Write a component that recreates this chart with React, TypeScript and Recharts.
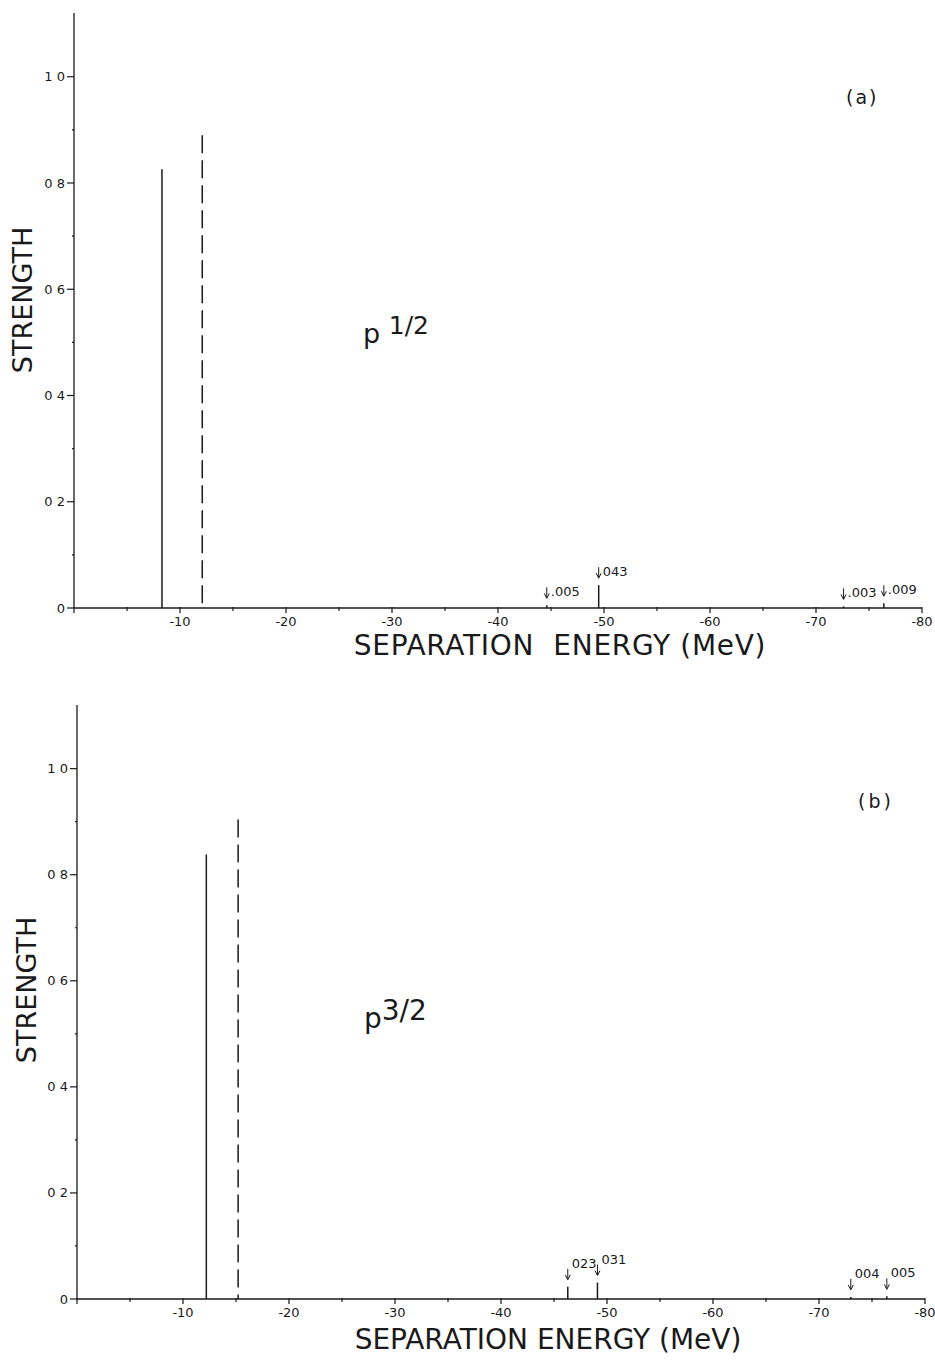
import { ComposedChart, Scatter, XAxis, YAxis } from 'recharts'

// panel (a) p1/2
const aSolidEnergy = [-8.3, -44.6, -49.5, -72.6, -76.4]
const aSolidStrength = [0.826, 0.005, 0.043, 0.003, 0.009]
const aLabels = ['', '.005', '043', '.003', '.009']
const aDashedEnergy = [-12.1]
const aDashedStrength = [0.89]

// panel (b) p3/2
const bSolidEnergy = [-12.2, -46.3, -49.1, -73.0, -76.4]
const bSolidStrength = [0.838, 0.023, 0.031, 0.004, 0.005]
const bLabels = ['', '023', '031', '004', '005']
const bDashedEnergy = [-15.2]
const bDashedStrength = [0.904]

const xTicks = [0, -5, -10, -15, -20, -25, -30, -35, -40, -45, -50, -55, -60, -65, -70, -75, -80]
const yTicks = [0, 0.1, 0.2, 0.3, 0.4, 0.5, 0.6, 0.7, 0.8, 0.9, 1.0]
const yTickLabels: Record<string, string> = { '0': '0', '0.2': '0 2', '0.4': '0 4', '0.6': '0 6', '0.8': '0 8', '1': '1 0' }

const INK = '#1a1a1a'
const FONT = '"DejaVu Sans", sans-serif'

const XTick = ({ x, y, payload }: any) => {
  const v = payload.value
  const major = v % 10 === 0
  return (
    <g>
      <line x1={x} x2={x} y1={y - 1} y2={y + (major ? 5 : 3)} stroke={INK} strokeWidth={1.2} />
      {major && v !== 0 && (
        <text x={x} y={y + 18} textAnchor="middle" fontSize={13} fontFamily={FONT} fill={INK}>
          {String(v)}
        </text>
      )}
    </g>
  )
}

const YTick = ({ x, y, payload }: any) => {
  const key = String(Math.round(payload.value * 10) / 10)
  const label = yTickLabels[key]
  return (
    <g>
      <line x1={x - (label ? 7 : 2)} x2={x} y1={y} y2={y} stroke={INK} strokeWidth={1.2} />
      {label && (
        <text x={x - 9} y={y + 4.5} textAnchor="end" fontSize={13} fontFamily={FONT} fill={INK}>
          {label}
        </text>
      )}
    </g>
  )
}

const noDot = () => <g />

function makeArrow(textDy: number) {
  return (p: any) => {
    const label = p.payload?.label
    if (!label) return <g />
    const { cx, cy } = p
    return (
      <g>
        <line x1={cx} x2={cx} y1={cy - 18} y2={cy - 8} stroke={INK} strokeWidth={1} />
        <path d={`M${cx - 2.5} ${cy - 12} L${cx} ${cy - 7} L${cx + 2.5} ${cy - 12}`} fill="none" stroke={INK} strokeWidth={1} />
        <text x={cx + 4} y={cy + textDy} fontSize={13} fontFamily={FONT} fill={INK}>
          {label}
        </text>
      </g>
    )
  }
}

function Panel({ solidE, solidS, dashedE, dashedS, labels, margin, textDy }: any) {
  const spikes = solidE.map((e: number, i: number) => [
    { x: e, y: 0 },
    { x: e, y: solidS[i] },
  ])
  // dashed lines drawn from the top down so the pattern starts with a dash
  const dashed = dashedE.map((e: number, i: number) => [
    { x: e, y: dashedS[i] },
    { x: e, y: 0 },
  ])
  const notes = solidE.map((e: number, i: number) => ({ x: e, y: solidS[i], label: labels[i] }))
  return (
    <ComposedChart width={935} height={680} margin={margin}>
      <XAxis
        type="number"
        dataKey="x"
        domain={[-80, 0]}
        reversed
        ticks={xTicks}
        interval={0}
        height={30}
        tickSize={0}
        tickMargin={0}
        tick={<XTick />}
        axisLine={{ stroke: INK, strokeWidth: 1.3 }}
        allowDataOverflow
      />
      <YAxis
        type="number"
        dataKey="y"
        domain={[0, 1.12]}
        ticks={yTicks}
        interval={0}
        width={60}
        tickSize={0}
        tickMargin={0}
        tick={<YTick />}
        axisLine={{ stroke: INK, strokeWidth: 1.3 }}
        allowDataOverflow
      />
      {spikes.map((d: any, i: number) => (
        <Scatter
          key={`s${i}`}
          data={d}
          line={{ stroke: INK, strokeWidth: 1.5 }}
          shape={noDot}
          isAnimationActive={false}
        />
      ))}
      {dashed.map((d: any, i: number) => (
        <Scatter
          key={`d${i}`}
          data={d}
          line={{ stroke: INK, strokeWidth: 1.5, strokeDasharray: '18 7' }}
          shape={noDot}
          isAnimationActive={false}
        />
      ))}
      <Scatter data={notes} shape={makeArrow(textDy)} isAnimationActive={false} />
    </ComposedChart>
  )
}

const abs = (left: number, top: number, extra: any = {}) => ({
  position: 'absolute' as const,
  left,
  top,
  fontFamily: FONT,
  color: INK,
  whiteSpace: 'pre' as const,
  lineHeight: 1,
  ...extra,
})

export default function App() {
  return (
    <div style={{ position: 'absolute', left: 0, top: 0, width: 935, height: 1361, background: '#fff', overflow: 'hidden' }}>
      <div style={{ position: 'absolute', left: 0, top: 0 }}>
        <Panel
          solidE={aSolidEnergy}
          solidS={aSolidStrength}
          dashedE={aDashedEnergy}
          dashedS={aDashedStrength}
          labels={aLabels}
          margin={{ top: 13, right: 13, left: 14, bottom: 42 }}
          textDy={-9}
        />
      </div>
      <div style={{ position: 'absolute', left: 0, top: 692 }}>
        <Panel
          solidE={bSolidEnergy}
          solidS={bSolidStrength}
          dashedE={bDashedEnergy}
          dashedS={bDashedStrength}
          labels={bLabels}
          margin={{ top: 13, right: 10, left: 17, bottom: 43 }}
          textDy={-19}
        />
      </div>

      {/* axis titles */}
      <div style={abs(22, 300, { fontSize: 27, transform: 'translate(-50%,-50%) rotate(-90deg)' })}>STRENGTH</div>
      <div style={abs(26, 990, { fontSize: 27, transform: 'translate(-50%,-50%) rotate(-90deg)' })}>STRENGTH</div>
      <div style={abs(560, 646, { fontSize: 28, letterSpacing: 0.7, transform: 'translate(-50%,-50%)' })}>SEPARATION  ENERGY (MeV)</div>
      <div style={abs(548, 1340, { fontSize: 28, transform: 'translate(-50%,-50%)' })}>SEPARATION ENERGY (MeV)</div>

      {/* state labels */}
      <div style={abs(363, 320, { fontSize: 27 })}>
        p <span style={{ position: 'relative', top: -9, fontSize: 25 }}>1/2</span>
      </div>
      <div style={abs(364, 1005, { fontSize: 28 })}>
        p<span style={{ position: 'relative', top: -8 }}>3/2</span>
      </div>
      <div style={abs(846, 88, { fontSize: 19, letterSpacing: 2 })}>(a)</div>
      <div style={abs(858, 792, { fontSize: 19, letterSpacing: 3 })}>(b)</div>
    </div>
  )
}
